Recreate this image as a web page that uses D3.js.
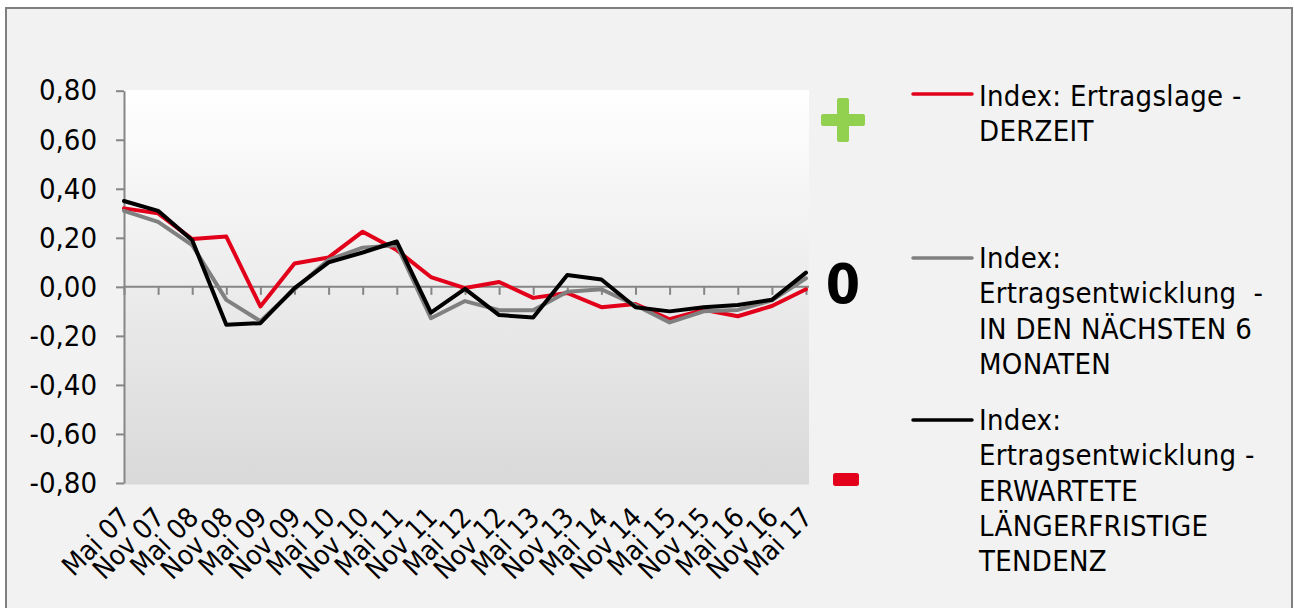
<!DOCTYPE html>
<html>
<head>
<meta charset="utf-8">
<script src="https://cdn.jsdelivr.net/npm/d3@7"></script>
<style>
  html, body { margin: 0; padding: 0; background: #ffffff; }
  svg { display: block; }
  text { font-family: "DejaVu Sans Condensed", "DejaVu Sans", sans-serif; }
</style>
</head>
<body>
<svg id="chart" width="1294" height="608"></svg>
<script>
// ---- data ----
const categories = ["Mai 07","Nov 07","Mai 08","Nov 08","Mai 09","Nov 09","Mai 10","Nov 10","Mai 11","Nov 11",
                    "Mai 12","Nov 12","Mai 13","Nov 13","Mai 14","Nov 14","Mai 15","Nov 15","Mai 16","Nov 16","Mai 17"];
const ertragslageDerzeit = [0.32, 0.30, 0.195, 0.205, -0.08, 0.095, 0.12, 0.225, 0.15, 0.04,
                            -0.005, 0.02, -0.045, -0.025, -0.083, -0.07, -0.132, -0.094, -0.12, -0.078, -0.01];
const ertragsentwicklung6M = [0.31, 0.265, 0.17, -0.053, -0.14, -0.01, 0.11, 0.16, 0.17, -0.128,
                              -0.058, -0.095, -0.095, -0.02, -0.01, -0.075, -0.145, -0.10, -0.094, -0.055, 0.035];
const ertragsentwicklungLang = [0.35, 0.31, 0.19, -0.155, -0.148, -0.005, 0.10, 0.14, 0.185, -0.105,
                                -0.008, -0.115, -0.125, 0.048, 0.03, -0.083, -0.10, -0.083, -0.074, -0.053, 0.058];
const yTicks = [-0.8, -0.6, -0.4, -0.2, 0, 0.2, 0.4, 0.6, 0.8];
const seriesNames = [
  ["Index: Ertragslage -", "DERZEIT"],
  ["Index:", "Ertragsentwicklung  -", "IN DEN NÄCHSTEN 6", "MONATEN"],
  ["Index:", "Ertragsentwicklung -", "ERWARTETE", "LÄNGERFRISTIGE", "TENDENZ"]
];
const seriesColors = ["#e2001a", "#808080", "#000000"];

const series = [ertragslageDerzeit, ertragsentwicklung6M, ertragsentwicklungLang];

// ---- layout ----
const svg = d3.select("#chart");
const plot = { left: 124, top: 90, right: 809, bottom: 484.5 };

svg.append("rect")
  .attr("x", 6).attr("y", 8).attr("width", 1286).attr("height", 640)
  .attr("fill", "#f2f2f2").attr("stroke", "#7f7f7f").attr("stroke-width", 2);

const defs = svg.append("defs");
const grad = defs.append("linearGradient").attr("id", "bg").attr("x1", 0).attr("y1", 0).attr("x2", 0).attr("y2", 1);
grad.append("stop").attr("offset", "0%").attr("stop-color", "#ffffff");
grad.append("stop").attr("offset", "100%").attr("stop-color", "#d9d9d9");

svg.append("rect")
  .attr("x", plot.left).attr("y", plot.top)
  .attr("width", plot.right - plot.left).attr("height", plot.bottom - plot.top)
  .attr("fill", "url(#bg)");

const x = d3.scalePoint().domain(categories).range([124, 806]);
const y = d3.scaleLinear().domain([-0.8, 0.8]).range([483, 90.7]);

const fmt = d => (d < 0 ? "-" : "") + Math.abs(d).toFixed(2).replace(".", ",");

// y axis
const yAxis = svg.append("g")
  .attr("transform", `translate(${plot.left},0)`)
  .call(d3.axisLeft(y).tickValues(yTicks).tickFormat(fmt).tickSize(8).tickSizeOuter(0).tickPadding(19));
yAxis.select(".domain").attr("stroke", "#868686").attr("stroke-width", 2);
yAxis.selectAll(".tick line").attr("stroke", "#868686").attr("stroke-width", 2);
yAxis.selectAll(".tick text")
  .attr("font-family", "DejaVu Sans Condensed")
  .attr("font-size", 29).attr("fill", "#000");

// x axis (at zero)
const xAxis = svg.append("g")
  .attr("transform", `translate(0,${y(0)})`)
  .call(d3.axisBottom(x).tickSize(8).tickSizeOuter(0).tickFormat(""));
xAxis.select(".domain").remove();
xAxis.selectAll(".tick line").attr("stroke", "#868686").attr("stroke-width", 2);
svg.append("line")
  .attr("x1", plot.left).attr("x2", plot.right)
  .attr("y1", y(0)).attr("y2", y(0))
  .attr("stroke", "#868686").attr("stroke-width", 2);

// x labels (low position, rotated)
svg.append("g").selectAll("text")
  .data(categories).join("text")
  .attr("text-anchor", "end")
  .attr("font-size", 27.5)
  .attr("fill", "#000")
  .attr("transform", d => `translate(${x(d) + 8},519) rotate(-45)`)
  .text(d => d);

// lines
const line = d3.line().x((d, i) => x(categories[i])).y(d => y(d));
svg.append("g").selectAll("path")
  .data(series).join("path")
  .attr("d", d => line(d))
  .attr("fill", "none")
  .attr("stroke", (d, i) => seriesColors[i])
  .attr("stroke-width", 4)
  .attr("stroke-linejoin", "round")
  .attr("stroke-linecap", "round");

// +, 0, - markers
const mk = svg.append("g");
mk.append("rect").attr("x", 821).attr("y", 114).attr("width", 44).attr("height", 12).attr("rx", 2).attr("fill", "#92d050");
mk.append("rect").attr("x", 837).attr("y", 98).attr("width", 12).attr("height", 44).attr("rx", 2).attr("fill", "#92d050");
mk.append("text").attr("x", 843).attr("y", y(0) + 16.5).attr("text-anchor", "middle")
  .attr("font-size", 55).attr("font-weight", "bold").attr("fill", "#000").text("0");
mk.append("rect").attr("x", 833).attr("y", 473).attr("width", 26).attr("height", 13).attr("rx", 2.5).attr("fill", "#e2001a");

// legend
const legendLineY = [94, 258, 420];
const legendBase = [106, 268, 430];
const lh = 35.3;
const lg = svg.append("g");
seriesNames.forEach((lines, i) => {
  lg.append("line")
    .attr("x1", 913).attr("x2", 972)
    .attr("y1", legendLineY[i]).attr("y2", legendLineY[i])
    .attr("stroke", seriesColors[i]).attr("stroke-width", 3.5).attr("stroke-linecap", "round");
  const t = lg.append("text")
    .attr("x", 979).attr("y", legendBase[i])
    .attr("font-size", 29).attr("fill", "#000")
    .style("white-space", "pre").attr("letter-spacing", 0.3);
  lines.forEach((s, j) => {
    t.append("tspan").attr("x", 979).attr("y", legendBase[i] + j * lh).text(s);
  });
});
</script>
</body>
</html>
